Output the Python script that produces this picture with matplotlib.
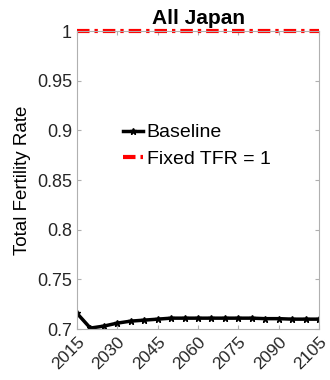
import matplotlib
matplotlib.use('Agg')
import matplotlib.pyplot as plt

plt.rcParams['font.family'] = ['Liberation Sans', 'DejaVu Sans']

years = list(range(2015, 2106, 5))
baseline = [0.716, 0.701, 0.703, 0.706, 0.708, 0.709, 0.710, 0.711, 0.711, 0.711,
            0.711, 0.711, 0.711, 0.711, 0.7105, 0.7105, 0.710, 0.710, 0.710]
fixed_tfr = [1.0] * len(years)
xticks = [2015, 2030, 2045, 2060, 2075, 2090, 2105]
yticks = [0.7, 0.75, 0.8, 0.85, 0.9, 0.95, 1.0]
ytick_labels = ['0.7', '0.75', '0.8', '0.85', '0.9', '0.95', '1']

fig = plt.figure(figsize=(3.3, 3.8), dpi=100)
ax = fig.add_axes([0.233, 0.134, 0.734, 0.784])

ax.plot(years, baseline, color='black', linewidth=2.5, marker='*', markersize=5,
        label='Baseline')
ax.plot(years, fixed_tfr, color='red', linewidth=3, dashes=(3, 1.2, 0.8, 1.2),
        label='Fixed TFR = 1', clip_on=False)

ax.set_xlim(2015, 2105)
ax.set_ylim(0.7, 1.0)
ax.set_xticks(xticks)
ax.set_xticklabels([str(x) for x in xticks], rotation=45, ha='right',
                   rotation_mode='anchor', fontsize=12.5)
ax.set_yticks(yticks)
ax.set_yticklabels(ytick_labels, fontsize=13)
ax.set_ylabel('Total Fertility Rate', fontsize=13.5)
ax.set_title('All Japan', fontsize=15, fontweight='bold', pad=5)

for s in ax.spines.values():
    s.set_color('#b0b0b0')
    s.set_linewidth(0.8)
ax.tick_params(direction='in', color='#b0b0b0', length=3, top=True, right=True,
               labelcolor='#262626')

ax.legend(loc='upper left', bbox_to_anchor=(0.135, 0.735), frameon=False,
          fontsize=14, handlelength=1.0, handletextpad=0.2, labelspacing=0.45,
          borderpad=0.2)

fig.savefig('out.png', dpi=100)
